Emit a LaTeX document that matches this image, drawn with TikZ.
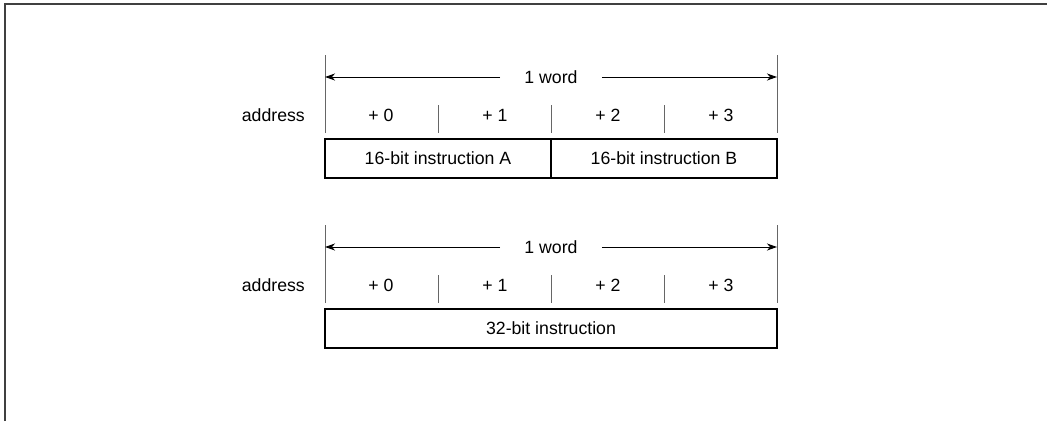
\documentclass[tikz,border=0pt]{standalone}
\usepackage{fontspec}
\setmainfont{Liberation Sans}
\usetikzlibrary{arrows.meta}
\tikzset{
  lbl/.style={font=\fontsize{17.7pt}{20pt}\selectfont, inner sep=0pt, anchor=center},
  sep/.style={draw=black!60, line width=1pt},
  frame/.style={draw=black!75, line width=1.6pt},
  wordbox/.style={draw=black, line width=2pt, inner sep=0pt, minimum height=39pt, font=\fontsize{17.7pt}{20pt}\selectfont},
  dim/.style={draw=black, line width=1pt, -{Stealth[length=10pt,width=7pt,inset=3pt]}}
}
\begin{document}
\begin{tikzpicture}[x=1pt,y=-1pt]
\useasboundingbox (0,0) rectangle (1047,421);
\draw[frame] (5,421) -- (5,4) -- (1047,4);
\foreach \dy/\nm in {0/t,170/b}{
  \begin{scope}[yshift=-\dy pt]
    \draw[sep] (325,55) -- (325,133);
    \draw[sep] (777,55) -- (777,133);
    \draw[sep] (438,105) -- (438,133);
    \draw[sep] (551,105) -- (551,133);
    \draw[sep] (664,105) -- (664,133);
    \coordinate (\nm L) at (325,77);
    \coordinate (\nm R) at (777,77);
    \node[lbl] (\nm word) at (551,77) {1 word};
    \node[lbl, anchor=east] (\nm addr) at (305,115) {address};
    \node[lbl] (\nm p0) at (381,115) {+ 0};
    \node[lbl] (\nm p1) at (495,115) {+ 1};
    \node[lbl] (\nm p2) at (608,115) {+ 2};
    \node[lbl] (\nm p3) at (721,115) {+ 3};
    \draw[dim] (\nm word.west) ++(-24pt,0) -- (\nm L);
    \draw[dim] (\nm word.east) ++(24pt,0) -- (\nm R);
  \end{scope}
}
\node[wordbox, minimum width=226pt] (insA) at (438,158.5) {16-bit instruction A};
\node[wordbox, minimum width=226pt] (insB) at (664,158.5) {16-bit instruction B};
\node[wordbox, minimum width=452pt] (ins32) at (551,328.5) {32-bit instruction};
\end{tikzpicture}
\end{document}
